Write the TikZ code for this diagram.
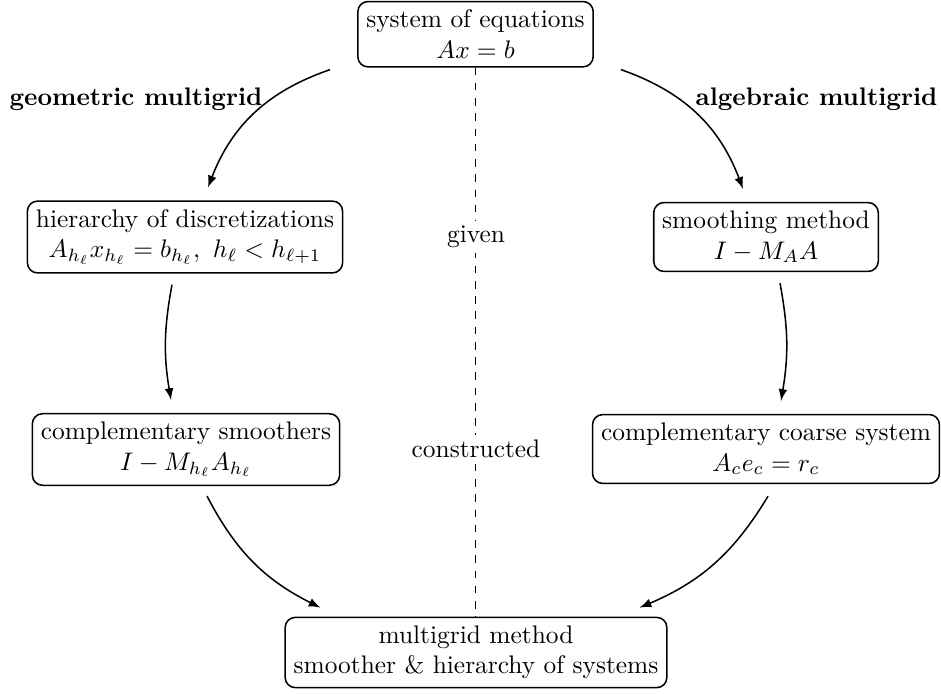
\documentclass[tikz,border=0pt]{standalone}
\usetikzlibrary{arrows,calc}
\begin{document}
\begin{tikzpicture}[x=0.3937pt,y=0.3937pt,
  box/.style={draw,semithick,rounded corners=4pt,align=center,fill=white},
  lab/.style={fill=white,inner sep=2pt},
  grp/.style={font=\bfseries},
  arr/.style={semithick,-latex}]
\useasboundingbox (0,0) rectangle (941,693);
\node[box,anchor=north] (top) at (475.5,692.2) {system of equations\\ $Ax=b$};
\node[box] (hier) at (185,456) {hierarchy of discretizations\\ $A_{h_\ell}x_{h_\ell}=b_{h_\ell},\ h_\ell<h_{\ell+1}$};
\node[box] (smooth) at (766,456) {smoothing method\\ $I-M_AA$};
\node[box] (smoothers) at (186,243.5) {complementary smoothers\\ $I-M_{h_\ell}A_{h_\ell}$};
\node[box] (coarse) at (766,244) {complementary coarse system\\ $A_ce_c=r_c$};
\node[box] (bottom) at (476,40.5) {multigrid method\\ smoother \& hierarchy of systems};
\node[grp] (geo) at (136,594) {geometric multigrid};
\node[grp] (alg) at (816.5,594) {algebraic multigrid};
\draw[dashed] (top.south) -- (top.south |- bottom.north);
\node[lab] (given) at (476,456) {given};
\node[lab] (constructed) at (476,244) {constructed};
\draw[arr] ($(top.south west)+(-27,-2)$) to[bend right=25] ($(hier.north)+(23,13)$);
\draw[arr] ($(top.south east)+(27,-2)$) to[bend left=25] ($(smooth.north)+(-23,13)$);
\draw[arr] ($(hier.south)+(-13,-11)$) to[bend right=10] ($(smoothers.north)+(-15,13)$);
\draw[arr] ($(smooth.south)+(14,-11)$) to[bend left=10] ($(coarse.north)+(15,13)$);
\draw[arr] ($(smoothers.south)+(21,-10)$) to[bend right=18] ($(bottom.north west)+(36,9)$);
\draw[arr] ($(coarse.south)+(2,-12)$) to[bend left=18] ($(bottom.north east)+(-28,9)$);
\end{tikzpicture}
\end{document}
